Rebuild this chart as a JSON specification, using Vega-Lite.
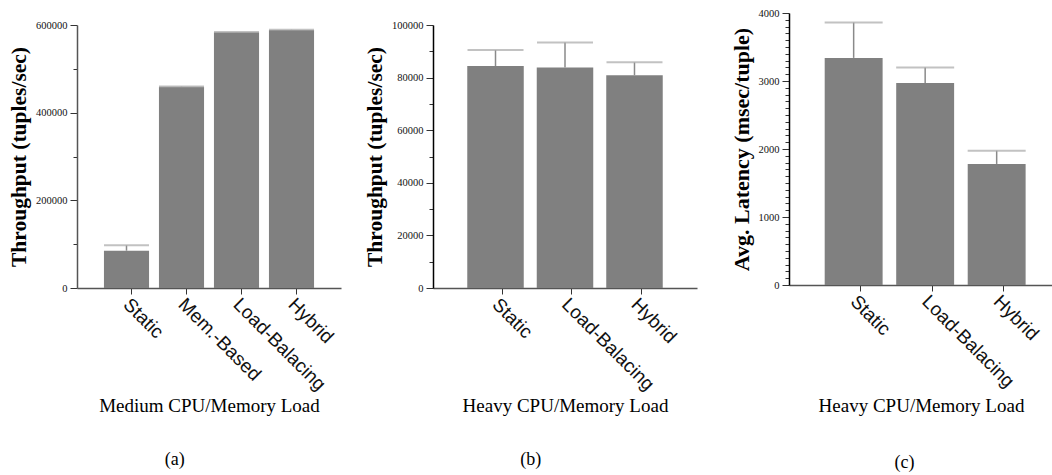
{
  "$schema": "https://vega.github.io/schema/vega-lite/v6.json",
  "padding": {"left": 8, "top": 8, "right": 0, "bottom": 0},
  "background": "white",
  "bounds": "flush",
  "spacing": 92,
  "config": {
    "view": {"stroke": null},
    "axis": {"grid": false, "labelFont": "Liberation Serif", "titleFont": "Liberation Serif", "labelColor": "#111", "titleColor": "#000", "tickColor": "#333", "domainColor": "#555"},
    "axisX": {"labelFont": "Liberation Sans", "labelFontSize": 19, "labelAngle": 45, "labelAlign": "left", "labelBaseline": "middle", "labelPadding": 7, "tickSize": 6, "titleFontSize": 19, "titleFontWeight": "normal", "titlePadding": 3, "domainWidth": 1.5, "bandPosition": 0.62},
    "axisY": {"labelFontSize": 10.5, "labelPadding": 3, "titleFontSize": 21.5, "titleFontWeight": "bold", "titlePadding": 5, "domainWidth": 1.5},
    "title": {"font": "Liberation Serif", "fontSize": 18, "fontWeight": "normal", "color": "#000"}
  },
  "hconcat": [
    {
      "width": 264, "height": 275,
      "title": {"text": "(a)", "orient": "bottom", "anchor": "middle", "frame": "bounds", "offset": 35},
      "data": {"values": [
        {"method": "Static", "value": 85100, "upper": 97400},
        {"method": "Mem.-Based", "value": 459000, "upper": 459600},
        {"method": "Load-Balacing", "value": 583300, "upper": 584000},
        {"method": "Hybrid", "value": 588500, "upper": 589000}
      ]},
      "encoding": {"x": {"field": "method", "type": "nominal", "sort": null, "scale": {"paddingInner": 0.18, "paddingOuter": 0.49}, "axis": {"title": "Medium CPU/Memory Load"}}},
      "layer": [
        {"mark": {"type": "bar", "color": "#808080"},
         "encoding": {"y": {"field": "value", "type": "quantitative", "scale": {"domain": [0, 600000], "range": [275, 12]},
           "axis": {"title": "Throughput (tuples/sec)", "tickCount": 6, "format": "d", "labelExpr": "datum.value % 200000 === 0 ? datum.label : ''", "tickSize": {"condition": {"test": "datum.value % 200000 === 0", "value": 7}, "value": 4}}}}},
        {"mark": {"type": "rule", "color": "#8a8a8a", "strokeWidth": 1.5},
         "encoding": {"y": {"field": "value", "type": "quantitative", "scale": {"domain": [0, 600000], "range": [275, 12]},
           "axis": {"title": "Throughput (tuples/sec)", "tickCount": 6, "format": "d", "labelExpr": "datum.value % 200000 === 0 ? datum.label : ''", "tickSize": {"condition": {"test": "datum.value % 200000 === 0", "value": 7}, "value": 4}}}, "y2": {"field": "upper"}}},
        {"mark": {"type": "tick", "color": "#a8a8a8", "size": 45, "thickness": 2},
         "encoding": {"y": {"field": "upper", "type": "quantitative", "scale": {"domain": [0, 600000], "range": [275, 12]},
           "axis": {"title": "Throughput (tuples/sec)", "tickCount": 6, "format": "d", "labelExpr": "datum.value % 200000 === 0 ? datum.label : ''", "tickSize": {"condition": {"test": "datum.value % 200000 === 0", "value": 7}, "value": 4}}}}}
      ]
    },
    {
      "width": 264, "height": 275,
      "title": {"text": "(b)", "orient": "bottom", "anchor": "middle", "frame": "bounds", "offset": 35},
      "data": {"values": [
        {"method": "Static", "value": 84400, "upper": 90500},
        {"method": "Load-Balacing", "value": 83800, "upper": 93300},
        {"method": "Hybrid", "value": 80900, "upper": 85800}
      ]},
      "encoding": {"x": {"field": "method", "type": "nominal", "sort": null, "scale": {"paddingInner": 0.187, "paddingOuter": 0.493}, "axis": {"title": "Heavy CPU/Memory Load"}}},
      "layer": [
        {"mark": {"type": "bar", "color": "#808080"},
         "encoding": {"y": {"field": "value", "type": "quantitative", "scale": {"domain": [0, 100000], "range": [275, 12]},
           "axis": {"title": "Throughput (tuples/sec)", "domainColor": "#000", "tickCount": 10, "format": "d", "labelExpr": "datum.value % 20000 === 0 ? datum.label : ''", "tickSize": {"condition": {"test": "datum.value % 20000 === 0", "value": 7}, "value": 4}}}}},
        {"mark": {"type": "rule", "color": "#8a8a8a", "strokeWidth": 1.5},
         "encoding": {"y": {"field": "value", "type": "quantitative", "scale": {"domain": [0, 100000], "range": [275, 12]},
           "axis": {"title": "Throughput (tuples/sec)", "domainColor": "#000", "tickCount": 10, "format": "d", "labelExpr": "datum.value % 20000 === 0 ? datum.label : ''", "tickSize": {"condition": {"test": "datum.value % 20000 === 0", "value": 7}, "value": 4}}}, "y2": {"field": "upper"}}},
        {"mark": {"type": "tick", "color": "#a8a8a8", "size": 56, "thickness": 2},
         "encoding": {"y": {"field": "upper", "type": "quantitative", "scale": {"domain": [0, 100000], "range": [275, 12]},
           "axis": {"title": "Throughput (tuples/sec)", "domainColor": "#000", "tickCount": 10, "format": "d", "labelExpr": "datum.value % 20000 === 0 ? datum.label : ''", "tickSize": {"condition": {"test": "datum.value % 20000 === 0", "value": 7}, "value": 4}}}}}
      ]
    },
    {
      "width": 264, "height": 272,
      "title": {"text": "(c)", "orient": "bottom", "anchor": "middle", "frame": "bounds", "offset": 38, "dx": 13},
      "data": {"values": [
        {"method": "Static", "value": 3340, "upper": 3860},
        {"method": "Load-Balacing", "value": 2970, "upper": 3200},
        {"method": "Hybrid", "value": 1780, "upper": 1975}
      ]},
      "encoding": {"x": {"field": "method", "type": "nominal", "sort": null, "scale": {"paddingInner": 0.19, "paddingOuter": 0.441, "align": 0.566}, "axis": {"title": "Heavy CPU/Memory Load", "titlePadding": 6}}},
      "layer": [
        {"mark": {"type": "bar", "color": "#808080"},
         "encoding": {"y": {"field": "value", "type": "quantitative", "scale": {"domain": [0, 4000]},
           "axis": {"title": "Avg. Latency (msec/tuple)", "titleFontSize": 22, "domainColor": "#000", "tickCount": 40, "format": "d", "labelExpr": "datum.value % 1000 === 0 ? datum.label : ''", "tickSize": {"condition": {"test": "datum.value % 1000 === 0", "value": 7}, "value": 4}}}}},
        {"mark": {"type": "rule", "color": "#8a8a8a", "strokeWidth": 1.5},
         "encoding": {"y": {"field": "value", "type": "quantitative", "scale": {"domain": [0, 4000]},
           "axis": {"title": "Avg. Latency (msec/tuple)", "titleFontSize": 22, "domainColor": "#000", "tickCount": 40, "format": "d", "labelExpr": "datum.value % 1000 === 0 ? datum.label : ''", "tickSize": {"condition": {"test": "datum.value % 1000 === 0", "value": 7}, "value": 4}}}, "y2": {"field": "upper"}}},
        {"mark": {"type": "tick", "color": "#a8a8a8", "size": 58, "thickness": 2},
         "encoding": {"y": {"field": "upper", "type": "quantitative", "scale": {"domain": [0, 4000]},
           "axis": {"title": "Avg. Latency (msec/tuple)", "titleFontSize": 22, "domainColor": "#000", "tickCount": 40, "format": "d", "labelExpr": "datum.value % 1000 === 0 ? datum.label : ''", "tickSize": {"condition": {"test": "datum.value % 1000 === 0", "value": 7}, "value": 4}}}}}
      ]
    }
  ]
}
